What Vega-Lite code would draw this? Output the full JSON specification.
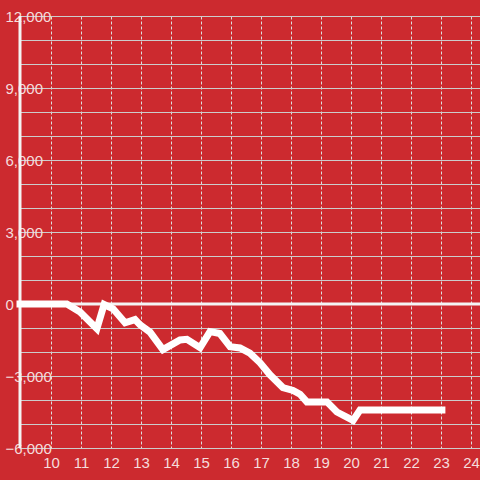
{
  "$schema": "https://vega.github.io/schema/vega-lite/v6.json",
  "width": 460,
  "height": 432,
  "autosize": {"type": "none"},
  "padding": {"left": 20, "top": 16, "right": 0, "bottom": 32},
  "background": "#cc2a2f",
  "config": {
    "view": {"stroke": null, "fill": "#cc2a2f"},
    "font": "Liberation Sans",
    "axis": {"labelFont": "Liberation Sans", "labelFontSize": 15, "labelColor": "#f5dcdc"}
  },
  "datasets": {
    "series": [
      {"t": 8.967, "v": 0},
      {"t": 10.53, "v": 0},
      {"t": 10.97, "v": -330},
      {"t": 11.53, "v": -1030},
      {"t": 11.77, "v": -20},
      {"t": 12.07, "v": -200},
      {"t": 12.47, "v": -780},
      {"t": 12.8, "v": -650},
      {"t": 12.97, "v": -870},
      {"t": 13.3, "v": -1170},
      {"t": 13.73, "v": -1900},
      {"t": 14.3, "v": -1500},
      {"t": 14.53, "v": -1470},
      {"t": 14.97, "v": -1820},
      {"t": 15.3, "v": -1150},
      {"t": 15.63, "v": -1230},
      {"t": 15.97, "v": -1780},
      {"t": 16.3, "v": -1830},
      {"t": 16.63, "v": -2050},
      {"t": 16.97, "v": -2450},
      {"t": 17.3, "v": -2950},
      {"t": 17.73, "v": -3480},
      {"t": 18.07, "v": -3600},
      {"t": 18.3, "v": -3760},
      {"t": 18.53, "v": -4080},
      {"t": 19.2, "v": -4080},
      {"t": 19.53, "v": -4500},
      {"t": 20.07, "v": -4850},
      {"t": 20.3, "v": -4420},
      {"t": 23.03, "v": -4420}
    ],
    "zero": [{"v": 0}],
    "axisline": [{"t": 8.967}]
  },
  "layer": [
    {
      "data": {"name": "zero"},
      "mark": {"type": "rule", "color": "#f4f4f4", "strokeWidth": 3},
      "encoding": {
        "y": {
          "field": "v", "type": "quantitative",
          "scale": {"domain": [-6000, 12000], "nice": false, "zero": false},
          "axis": {
            "title": null,
            "values": [-6000,-5000,-4000,-3000,-2000,-1000,0,1000,2000,3000,4000,5000,6000,7000,8000,9000,10000,11000,12000],
            "labelExpr": "datum.value % 3000 == 0 ? datum.label : ''",
            "labelOverlap": false,
            "domain": false,
            "ticks": false, "labelPadding": 15, "labelAlign": "left",
            "grid": true, "gridColor": "#cccccc", "gridWidth": 1.2, "gridOpacity": 1,
            "labelFlush": false
          }
        }
      }
    },
    {
      "data": {"name": "axisline"},
      "mark": {"type": "rule", "color": "#f4f4f4", "strokeWidth": 3},
      "encoding": {
        "x": {
          "field": "t", "type": "quantitative",
          "scale": {"domain": [8.967, 24.3], "nice": false, "zero": false},
          "axis": {
            "title": null, "values": [10,11,12,13,14,15,16,17,18,19,20,21,22,23,24],
            "domain": false, "ticks": false, "labelPadding": 7, "labelOverlap": false,
            "grid": true, "gridColor": "#dddddd", "gridDash": [3, 2], "gridWidth": 1, "gridOpacity": 1,
            "labelFlush": false
          }
        }
      }
    },
    {
      "data": {"name": "series"},
      "mark": {"type": "line", "color": "#ffffff", "strokeWidth": 7, "strokeCap": "square", "strokeJoin": "miter"},
      "encoding": {
        "x": {
          "field": "t", "type": "quantitative",
          "scale": {"domain": [8.967, 24.3], "nice": false, "zero": false},
          "axis": {
            "title": null, "values": [10,11,12,13,14,15,16,17,18,19,20,21,22,23,24],
            "domain": false, "ticks": false, "labelPadding": 7, "labelOverlap": false,
            "grid": true, "gridColor": "#dddddd", "gridDash": [3, 2], "gridWidth": 1, "gridOpacity": 1,
            "labelFlush": false
          }
        },
        "y": {
          "field": "v", "type": "quantitative",
          "scale": {"domain": [-6000, 12000], "nice": false, "zero": false},
          "axis": {
            "title": null,
            "values": [-6000,-5000,-4000,-3000,-2000,-1000,0,1000,2000,3000,4000,5000,6000,7000,8000,9000,10000,11000,12000],
            "labelExpr": "datum.value % 3000 == 0 ? datum.label : ''",
            "labelOverlap": false,
            "domain": false,
            "ticks": false, "labelPadding": 15, "labelAlign": "left",
            "grid": true, "gridColor": "#cccccc", "gridWidth": 1.2, "gridOpacity": 1,
            "labelFlush": false
          }
        }
      }
    }
  ]
}
